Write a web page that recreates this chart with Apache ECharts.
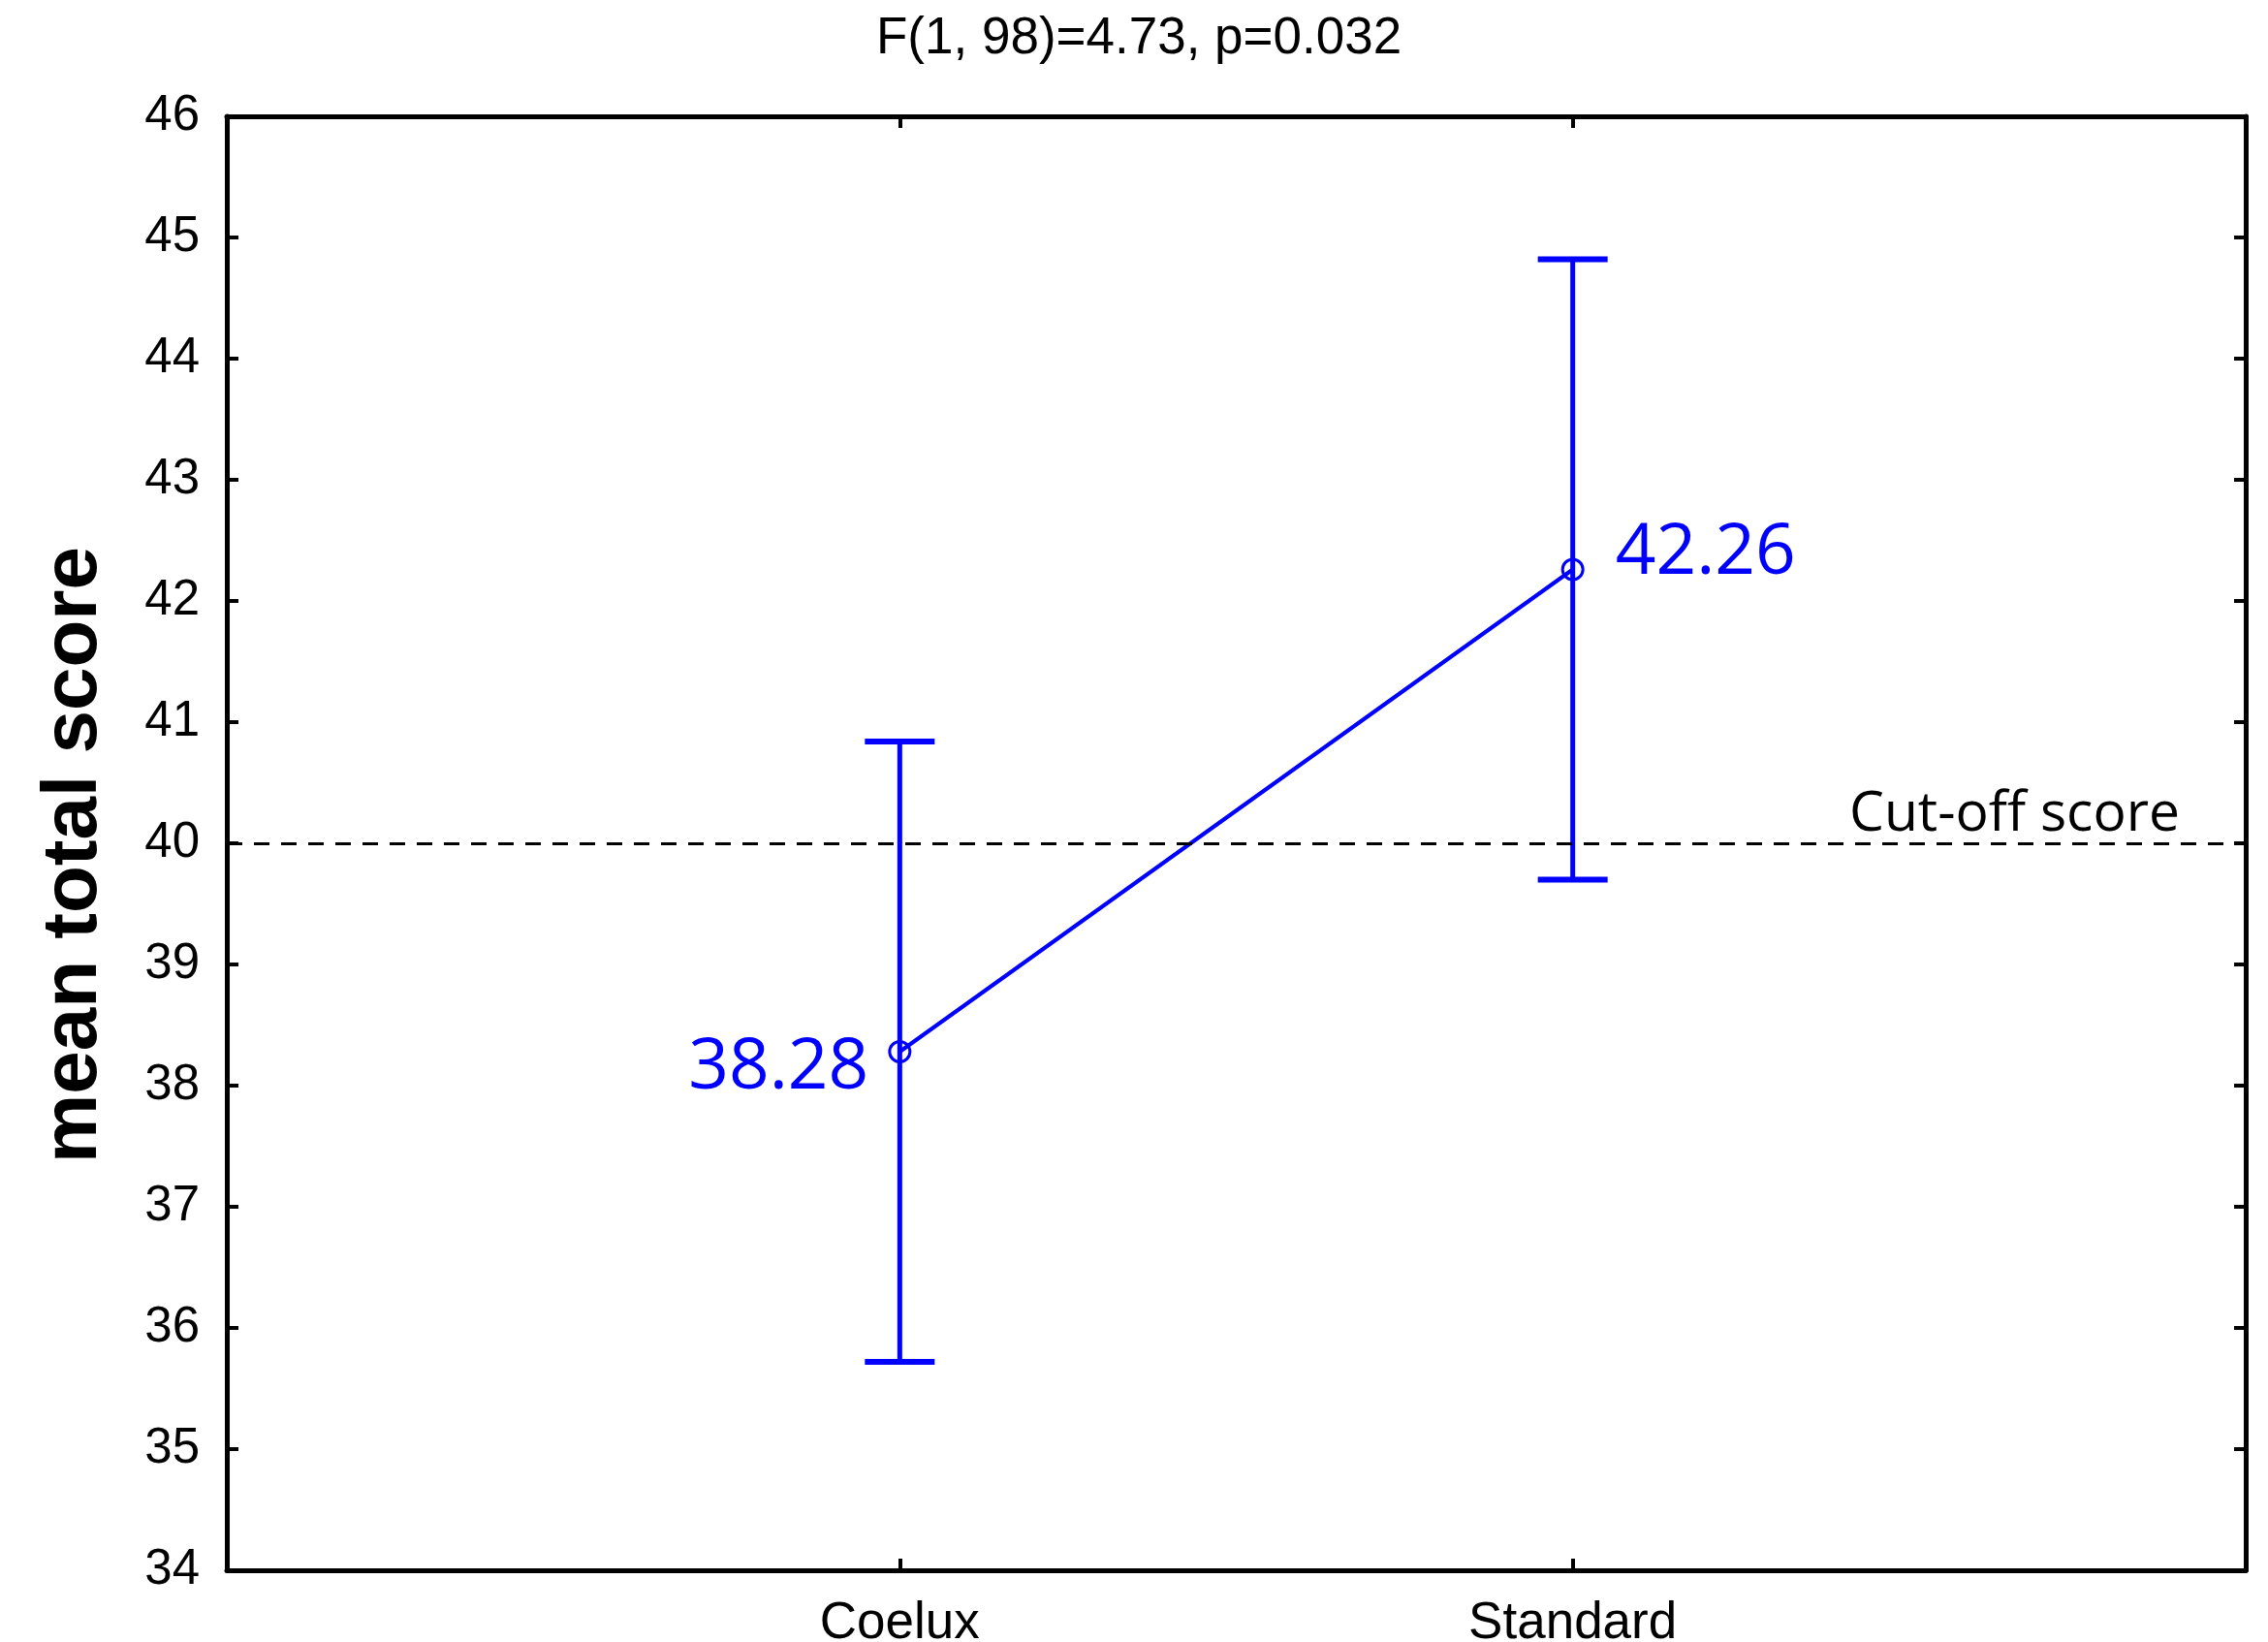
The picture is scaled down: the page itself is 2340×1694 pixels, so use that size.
<!DOCTYPE html>
<html>
<head>
<meta charset="utf-8">
<script src="https://cdn.jsdelivr.net/npm/echarts@6/dist/echarts.min.js"></script>
<style>
html,body{margin:0;padding:0;background:#fff;}
#chart{width:2340px;height:1694px;}
</style>
</head>
<body>
<div id="chart"></div>
<script>
// ---- data ----
const titleText = 'F(1, 98)=4.73, p=0.032';
const yAxisName = 'mean total score';
const categories = ['Coelux', 'Standard'];
const categoryPos = [1, 2];
const means = [38.28, 42.26];
const ciLow = [35.72, 39.70];
const ciHigh = [40.84, 44.82];
const cutoffValue = 40;
const cutoffLabel = 'Cut-off score';
const yMin = 34, yMax = 46, yStep = 1;
const xMin = 0, xMax = 3;

const BLUE = '#0000ff';

const lineData = means.map((m, i) => ({
  value: [categoryPos[i], m],
  label: i === 0
    ? { position: 'left', distance: 20, offset: [0, 17] }
    : { position: 'right', distance: 32, offset: [0, -16] }
}));
const errData = means.map((m, i) => [categoryPos[i], ciLow[i], ciHigh[i]]);

const chart = echarts.init(document.getElementById('chart'), null, { renderer: 'canvas' });

const axisLineStyle = { color: '#000', width: 5 };
function tickStyle() {
  return { show: true, inside: true, length: 12, lineStyle: { color: '#000', width: 4 } };
}

chart.setOption({
  animation: false,
  backgroundColor: '#fff',
  title: {
    text: titleText,
    left: 899,
    top: 9,
    textStyle: { fontFamily: 'Liberation Sans, Arial', fontWeight: 'normal', fontSize: 53, color: '#000' }
  },
  grid: { left: 234, right: 23, top: 120, bottom: 74, containLabel: false, outerBoundsMode: 'none' },
  xAxis: [{
    type: 'value', position: 'bottom',
    min: xMin, max: xMax, interval: 1,
    axisLine: { show: true, onZero: false, lineStyle: axisLineStyle },
    axisTick: tickStyle(),
    splitLine: { show: false },
    axisLabel: {
      margin: 29,
      fontFamily: 'Liberation Sans, Arial', fontSize: 53, color: '#000',
      formatter: v => { const k = categoryPos.indexOf(v); return k >= 0 ? categories[k] : ''; }
    }
  }, {
    type: 'value', position: 'top',
    min: xMin, max: xMax, interval: 1,
    axisLine: { show: true, onZero: false, lineStyle: axisLineStyle },
    axisTick: tickStyle(),
    splitLine: { show: false },
    axisLabel: { show: false }
  }],
  yAxis: [{
    type: 'value', position: 'left',
    min: yMin, max: yMax, interval: yStep,
    name: yAxisName,
    nameLocation: 'middle',
    nameGap: 117,
    nameTextStyle: { fontFamily: 'Liberation Sans, Arial', fontWeight: 'bold', fontSize: 80, color: '#000', padding: [0, 24, 0, 0] },
    axisLine: { show: true, onZero: false, lineStyle: axisLineStyle },
    axisTick: tickStyle(),
    splitLine: { show: false },
    axisLabel: { margin: 28, fontFamily: 'Liberation Sans, Arial', fontSize: 51, color: '#000' }
  }, {
    type: 'value', position: 'right',
    min: yMin, max: yMax, interval: yStep,
    axisLine: { show: true, onZero: false, lineStyle: axisLineStyle },
    axisTick: tickStyle(),
    splitLine: { show: false },
    axisLabel: { show: false }
  }],
  series: [{
    type: 'custom',
    name: 'ci',
    xAxisIndex: 0, yAxisIndex: 0,
    data: errData,
    z: 2,
    renderItem: function (params, api) {
      const x = api.value(0);
      const lo = api.coord([x, api.value(1)]);
      const hi = api.coord([x, api.value(2)]);
      const half = 36;
      return {
        type: 'group',
        children: [
          { type: 'line', shape: { x1: lo[0], y1: lo[1], x2: hi[0], y2: hi[1] }, style: { stroke: BLUE, lineWidth: 5 } },
          { type: 'line', shape: { x1: hi[0] - half, y1: hi[1], x2: hi[0] + half, y2: hi[1] }, style: { stroke: BLUE, lineWidth: 6 } },
          { type: 'line', shape: { x1: lo[0] - half, y1: lo[1], x2: lo[0] + half, y2: lo[1] }, style: { stroke: BLUE, lineWidth: 6 } }
        ]
      };
    }
  }, {
    type: 'line',
    name: 'mean',
    xAxisIndex: 0, yAxisIndex: 0,
    data: lineData,
    z: 3,
    symbol: 'circle',
    symbolSize: 21,
    lineStyle: { color: BLUE, width: 4 },
    itemStyle: { color: 'rgba(0,0,0,0)', borderColor: BLUE, borderWidth: 3 },
    label: {
      show: true,
      fontFamily: 'Open Sans', fontSize: 73, color: BLUE,
      formatter: p => p.value[1].toFixed(2)
    },
    markLine: {
      silent: true,
      symbol: ['none', 'none'],
      lineStyle: { color: '#000', width: 3, type: [16, 12] },
      label: {
        show: true,
        position: 'insideEndTop',
        formatter: cutoffLabel,
        fontFamily: 'Open Sans', fontSize: 57, color: '#000',
        distance: [68, 1]
      },
      data: [{ yAxis: cutoffValue }]
    }
  }]
});
</script>
</body>
</html>
